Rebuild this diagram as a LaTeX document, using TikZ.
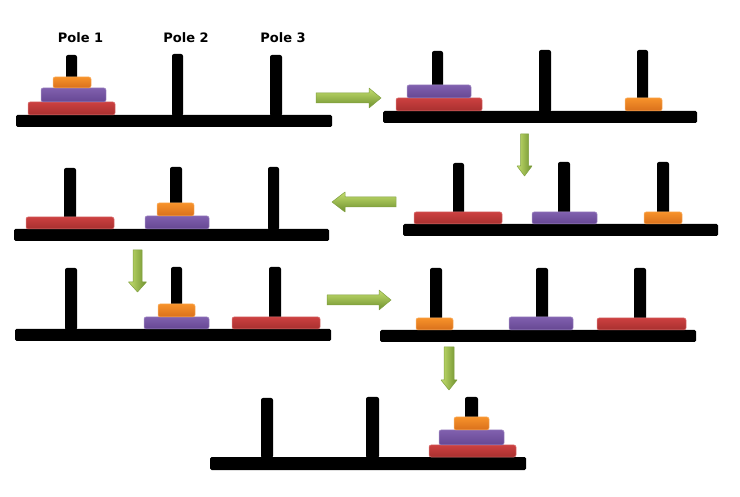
\documentclass[tikz,border=0pt]{standalone}
\usepackage{fontspec}
\newfontfamily\labelfont{DejaVu Sans}
\definecolor{redtop}{HTML}{CC4040}
\definecolor{redbot}{HTML}{A8302F}
\definecolor{purtop}{HTML}{8060AE}
\definecolor{purbot}{HTML}{664793}
\definecolor{ortop}{HTML}{F7922A}
\definecolor{orbot}{HTML}{D9701C}
\definecolor{arrlight}{HTML}{C4DE6E}
\definecolor{arrdark}{HTML}{6E902E}
\definecolor{arredge}{HTML}{80A040}
\newcommand\RArrow[3]{%
  \draw[harrow] (#1,{#3-5}) -- ({#2-12},{#3-5}) -- ({#2-12},{#3-10}) -- (#2,#3)
    -- ({#2-12},{#3+10}) -- ({#2-12},{#3+5}) -- (#1,{#3+5}) -- cycle;}
\newcommand\LArrow[3]{%
  \draw[harrow] (#2,{#3-5}) -- ({#1+13},{#3-5}) -- ({#1+13},{#3-10}) -- (#1,#3)
    -- ({#1+13},{#3+10}) -- ({#1+13},{#3+5}) -- (#2,{#3+5}) -- cycle;}
\newcommand\DArrow[5]{%
  \draw[varrow] ({#1-#4},#2) -- ({#1+#4},#2) -- ({#1+#4},{#3-10}) -- ({#1+#5},{#3-10})
    -- (#1,#3) -- ({#1-#5},{#3-10}) -- ({#1-#4},{#3-10}) -- cycle;}
\begin{document}
\begin{tikzpicture}[x=1pt,y=-1pt,
  base/.style={fill=black, rounded corners=1.5},
  pole/.style={fill=black, rounded corners=2},
  reddisk/.style={top color=redtop, bottom color=redbot, draw=redtop!70!white, line width=0.5, rounded corners=2},
  purdisk/.style={top color=purtop, bottom color=purbot, draw=purtop!70!white, line width=0.5, rounded corners=2},
  ordisk/.style={top color=ortop, bottom color=orbot, draw=ortop!70!white, line width=0.5, rounded corners=2},
  harrow/.style={top color=arrlight, bottom color=arrdark, draw=arredge, line width=0.5, line join=round},
  varrow/.style={left color=arrlight, right color=arrdark, draw=arredge, line width=0.5, line join=round},
  polelabel/.style={font=\labelfont\bfseries\fontsize{13}{15}\selectfont, text=black, inner sep=0pt}]
\useasboundingbox (0,0) rectangle (740,497);
\fill[white] (0,0) rectangle (740,497);

% ---------- labels
\node[polelabel] (l1) at (80.5,38) {Pole 1};
\node[polelabel] (l2) at (186,38) {Pole 2};
\node[polelabel] (l3) at (283,38) {Pole 3};

% ---------- panel 1 (top left)
\fill[pole] (66,55) rectangle (77,116);
\fill[pole] (172,54) rectangle (183,116);
\fill[pole] (270,55) rectangle (282,116);
\fill[base] (16,115) rectangle (332,127);
\draw[reddisk] (28,102) rectangle (115,115);
\draw[purdisk] (41,88) rectangle (106,102);
\draw[ordisk] (53,77) rectangle (91,88);

% ---------- panel 2 (top right)
\fill[pole] (432,51) rectangle (443,112);
\fill[pole] (539,50) rectangle (551,112);
\fill[pole] (637,50) rectangle (648,112);
\fill[base] (383,111) rectangle (697,123);
\draw[reddisk] (396,98) rectangle (482,111);
\draw[purdisk] (407,85) rectangle (471,98);
\draw[ordisk] (625,98) rectangle (662,111);

% ---------- panel 3 (middle right)
\fill[pole] (453,163) rectangle (464,225);
\fill[pole] (558,162) rectangle (570,225);
\fill[pole] (657,162) rectangle (669,225);
\fill[base] (403,224) rectangle (718,236);
\draw[reddisk] (414,212) rectangle (502,224);
\draw[purdisk] (532,212) rectangle (597,224);
\draw[ordisk] (644,212) rectangle (682,224);

% ---------- panel 4 (middle left)
\fill[pole] (64,168) rectangle (76,230);
\fill[pole] (170,167) rectangle (182,230);
\fill[pole] (268,167) rectangle (279,230);
\fill[base] (14,229) rectangle (329,241);
\draw[reddisk] (26,217) rectangle (114,229);
\draw[purdisk] (145,216) rectangle (209,229);
\draw[ordisk] (157,203) rectangle (194,216);

% ---------- panel 5 (third row left)
\fill[pole] (65,268) rectangle (77,330);
\fill[pole] (171,267) rectangle (182,330);
\fill[pole] (269,267) rectangle (281,330);
\fill[base] (15,329) rectangle (331,341);
\draw[purdisk] (144,317) rectangle (209,329);
\draw[ordisk] (158,304) rectangle (195,317);
\draw[reddisk] (232,317) rectangle (320,329);

% ---------- panel 6 (third row right)
\fill[pole] (430,268) rectangle (442,331);
\fill[pole] (536,268) rectangle (548,331);
\fill[pole] (634,268) rectangle (646,331);
\fill[base] (380,330) rectangle (696,342);
\draw[ordisk] (416,318) rectangle (453,330);
\draw[purdisk] (509,317) rectangle (573,330);
\draw[reddisk] (597,318) rectangle (686,330);

% ---------- panel 7 (bottom)
\fill[pole] (261,398) rectangle (273,458);
\fill[pole] (366,397) rectangle (379,458);
\fill[pole] (465,397) rectangle (478,458);
\fill[base] (210,457) rectangle (526,470);
\draw[reddisk] (429,445) rectangle (516,457);
\draw[purdisk] (439,430) rectangle (504,445);
\draw[ordisk] (454,417) rectangle (489,430);

% ---------- arrows
\RArrow{316}{381}{98}
\DArrow{524.5}{134}{176}{4}{7.5}
\LArrow{332}{396}{202}
\DArrow{137.5}{250}{292}{4.5}{9}
\RArrow{327}{391}{300}
\DArrow{449}{347}{390}{5}{8}
\end{tikzpicture}
\end{document}
